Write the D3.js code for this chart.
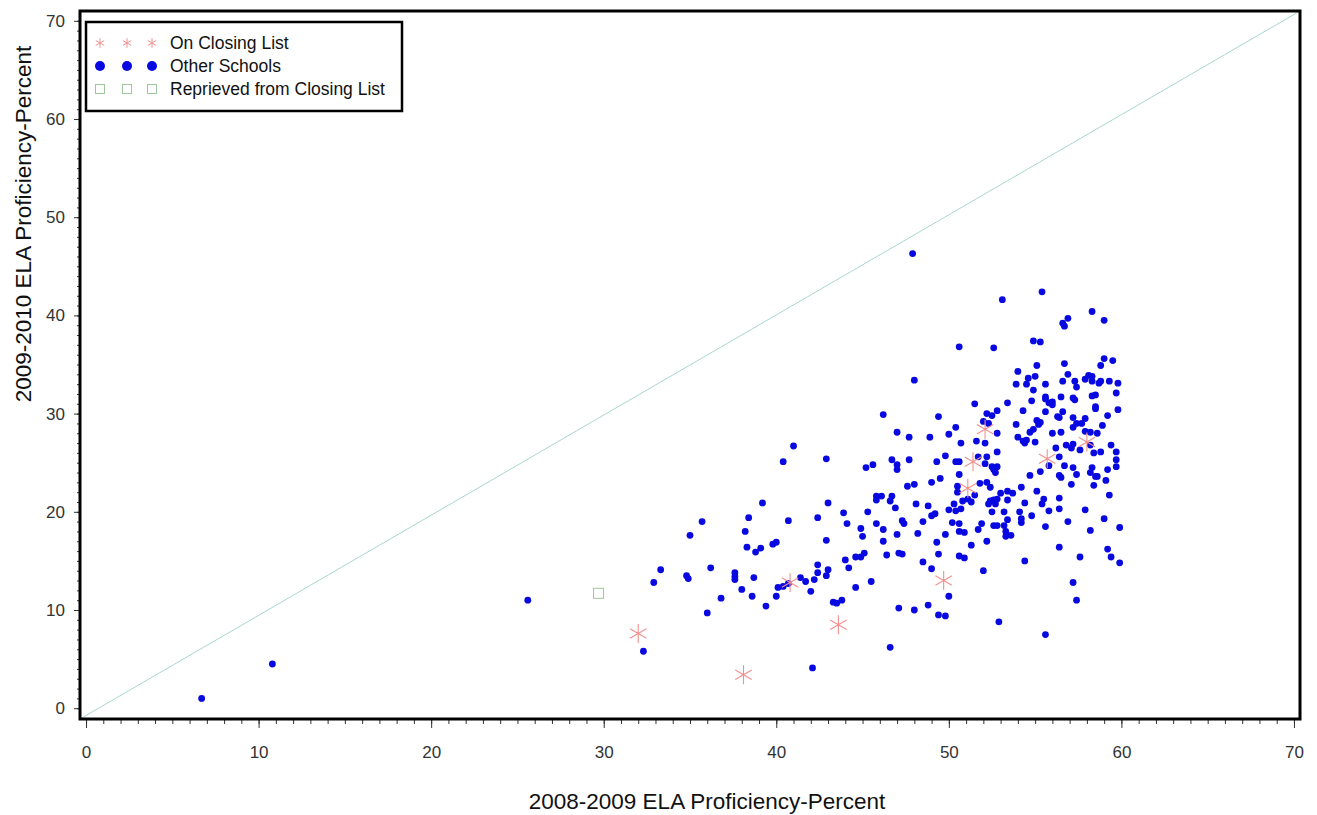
<!DOCTYPE html>
<html>
<head>
<meta charset="utf-8">
<script src="https://cdn.jsdelivr.net/npm/d3@7"></script>
<style>
    body { margin: 0; background: #fff; }
    svg { display: block; font-family: "Liberation Sans", Arial, sans-serif; }
    .tick text { fill: #333; font-size: 17px; }
</style>
</head>
<body>
<svg class="scatter-svg" width="1317" height="815"></svg>
<script>
// ELA proficiency, 2008-2009 (x) vs 2009-2010 (y)
var otherSchools = [
    [25.6,11.0],[33.3,14.1],[32.9,12.8],[34.8,13.5],[34.9,13.2],[35.0,17.6],[35.7,19.0],[36.2,14.3],
    [36.8,11.2],[36.0,9.7],[32.3,5.8],[37.6,13.8],[37.6,13.4],[37.6,13.1],[38.0,12.1],[38.2,18.0],
    [38.4,19.4],[38.3,16.4],[38.8,15.9],[39.1,16.3],[39.2,20.9],[38.7,13.3],[38.6,11.4],[39.4,10.4],
    [39.8,16.7],[40.0,16.9],[40.1,12.3],[40.0,11.4],[48.0,33.4],[46.2,29.9],[47.0,28.1],[47.7,27.6],
    [41.0,26.7],[40.4,25.1],[42.9,25.4],[45.2,24.5],[45.6,24.8],[46.7,25.3],[47.0,24.8],[47.0,24.3],
    [47.7,25.3],[47.6,22.6],[48.0,22.8],[43.0,20.9],[45.8,21.6],[46.1,21.6],[45.8,21.2],[46.7,21.6],
    [46.6,21.1],[46.9,20.4],[48.1,20.8],[40.7,19.1],[42.4,19.4],[43.9,19.9],[45.3,20.0],[44.1,18.8],
    [44.9,18.3],[45.0,17.5],[45.8,18.8],[46.2,18.2],[46.2,17.0],[47.3,19.1],[47.4,18.8],[47.0,17.7],
    [48.2,17.8],[42.9,17.1],[44.0,15.1],[44.6,15.4],[44.9,15.4],[45.1,15.8],[46.4,15.6],[47.1,15.8],
    [47.3,15.7],[44.2,14.3],[42.4,14.6],[42.4,13.8],[43.0,14.1],[42.9,13.5],[42.2,13.1],[40.4,12.4],
    [40.7,12.7],[41.4,13.3],[41.7,12.9],[42.0,11.9],[43.3,10.8],[43.5,10.7],[43.8,11.0],[44.6,12.3],
    [45.5,12.9],[47.1,10.2],[48.0,10.0],[53.1,41.6],[55.4,42.4],[50.6,36.8],[52.6,36.7],[58.3,40.4],
    [59.0,39.5],[56.6,39.2],[56.7,38.9],[56.9,39.7],[54.9,37.4],[55.3,37.3],[54.0,34.3],[55.1,34.9],
    [56.7,35.1],[59.0,35.6],[59.5,35.4],[58.8,34.9],[53.9,33.0],[54.6,33.6],[54.5,33.0],[55.0,33.8],
    [54.9,32.4],[55.6,33.0],[56.6,33.3],[56.9,34.0],[57.3,33.3],[57.4,32.7],[57.9,33.5],[58.1,33.9],
    [58.3,33.8],[58.3,33.3],[58.7,33.1],[58.8,33.3],[59.3,33.3],[59.8,33.1],[59.7,32.1],[51.5,31.0],
    [53.4,31.1],[54.8,31.3],[55.6,31.7],[55.6,31.5],[55.8,31.1],[56.0,31.2],[56.0,30.9],[55.6,30.2],
    [56.5,31.7],[57.2,31.6],[57.3,31.4],[58.3,31.8],[58.5,31.9],[58.5,30.7],[58.5,30.5],[59.8,30.4],
    [52.8,30.3],[52.2,30.0],[52.5,29.8],[54.3,30.3],[56.3,29.7],[56.4,29.6],[56.6,30.2],[57.2,29.6],
    [57.9,29.5],[59.2,29.8],[49.4,29.7],[50.4,28.6],[52.0,29.2],[52.3,29.0],[53.9,28.9],[55.1,29.3],
    [55.3,29.1],[55.2,28.9],[57.2,28.6],[57.4,29.0],[57.7,29.0],[58.9,28.8],[48.9,27.6],[50.0,27.9],
    [50.7,27.0],[51.6,27.2],[52.1,27.0],[52.8,28.0],[54.0,27.6],[54.3,27.2],[54.5,27.3],[54.4,27.0],
    [54.7,28.1],[54.9,28.4],[55.0,27.1],[56.0,28.0],[56.5,28.1],[57.9,28.2],[58.2,28.1],[58.6,28.0],
    [59.4,26.8],[59.7,26.1],[56.2,26.5],[56.8,26.8],[57.2,26.9],[57.1,26.5],[57.6,26.3],[58.2,26.8],
    [58.4,26.0],[58.8,26.1],[49.8,25.7],[51.7,25.6],[52.2,25.6],[52.8,26.1],[56.4,25.6],[59.7,25.3],
    [49.3,25.1],[50.4,25.1],[50.6,25.1],[52.1,24.9],[52.5,24.6],[52.8,24.6],[52.6,24.3],[52.7,24.0],
    [50.6,23.8],[54.7,23.7],[55.3,24.1],[55.8,24.7],[56.4,23.7],[56.5,23.5],[56.7,24.7],[57.2,24.5],
    [57.4,23.8],[58.2,24.0],[58.3,24.5],[58.5,23.6],[58.6,23.6],[59.1,23.2],[59.2,24.3],[59.7,24.6],
    [49.0,23.0],[49.5,23.4],[50.5,22.6],[50.5,22.0],[51.8,22.9],[52.2,23.0],[52.4,22.5],[51.5,21.7],
    [51.1,21.3],[51.3,21.0],[50.8,21.1],[53.0,21.9],[53.4,22.1],[53.7,21.9],[54.2,22.5],[55.1,22.1],
    [57.1,22.8],[58.4,22.7],[59.3,21.7],[48.8,20.6],[50.0,20.2],[50.3,20.8],[50.4,20.1],[50.7,20.3],
    [52.4,21.1],[52.3,20.8],[52.6,21.2],[52.7,20.8],[52.8,21.3],[53.4,21.2],[52.5,20.0],[53.2,20.0],
    [54.1,20.0],[54.2,19.3],[54.2,18.9],[54.4,20.9],[54.8,19.6],[55.4,20.8],[55.5,21.3],[55.8,20.1],
    [56.4,21.4],[56.4,20.3],[57.9,20.2],[59.0,19.3],[48.5,19.0],[49.0,19.6],[49.2,19.8],[50.2,18.9],
    [50.6,18.8],[51.9,18.8],[53.4,19.2],[52.6,18.6],[52.8,18.6],[53.2,18.6],[49.8,17.7],[50.6,18.0],
    [50.9,17.9],[51.7,18.2],[53.3,18.0],[53.3,17.5],[53.6,17.6],[55.6,18.5],[56.9,19.0],[58.2,18.1],
    [59.9,18.4],[49.3,16.9],[51.3,16.6],[52.2,17.0],[56.4,16.4],[49.4,15.7],[50.6,15.5],[50.9,15.3],
    [48.5,14.9],[49.0,14.2],[52.0,14.0],[54.4,15.0],[57.6,15.4],[59.2,16.2],[59.4,15.4],[59.9,14.8],
    [50.0,11.4],[48.8,10.5],[49.4,9.5],[49.8,9.4],[52.9,8.8],[55.6,7.5],[57.2,12.8],[57.4,11.0],
    [6.7,1.0],[10.8,4.5],[47.9,46.3],[46.6,6.2],[42.1,4.1]
];
var closingList = [
    [32.0,7.6],[38.1,3.4],[40.8,12.8],[43.6,8.5],[49.7,13.0],[51.1,22.4],[51.4,25.1],[52.1,28.4],
    [55.7,25.4],[58.0,27.1]
];
var reprieved = [[29.7,11.7]];

var xDomain = [-0.35, 70.35];
var yDomain = [-1.1, 71.0];
var majorTicks = [0, 10, 20, 30, 40, 50, 60, 70];
var minorTicks = d3.range(0, 71, 1);
var legendLabels = ["On Closing List", "Other Schools", "Reprieved from Closing List"];

var xTitle = "2008-2009 ELA Proficiency-Percent";
var yTitle = "2009-2010 ELA Proficiency-Percent";

var svg = d3.select(".scatter-svg"),
    margin = {top: 11, right: 17, bottom: 96, left: 80},
    width = +svg.attr("width") - margin.left - margin.right,
    height = +svg.attr("height") - margin.top - margin.bottom;

var x = d3.scaleLinear().domain(xDomain).range([0, width]);
var y = d3.scaleLinear().domain(yDomain).range([height, 0]);

var g = svg.append("g")
    .attr("transform", "translate(" + margin.left + "," + margin.top + ")");

// asterisk with 6 arms, like the SAS "star" symbol
function starPath(r) {
    var p = "";
    [90, 30, 150].forEach(function(a) {
        var rad = a * Math.PI / 180,
            dx = r * Math.cos(rad), dy = r * Math.sin(rad);
        p += "M" + (-dx) + "," + dy + "L" + dx + "," + (-dy);
    });
    return p;
}

// axes: minor ticks every unit, labelled major ticks every ten
function axisStyle(sel) {
    sel.select(".domain").remove();
    sel.selectAll(".tick line").attr("stroke", "#333").attr("stroke-width", 1);
}

g.append("g")
    .attr("transform", "translate(0," + height + ")")
    .call(d3.axisBottom(x).tickValues(minorTicks).tickSize(5).tickFormat(""))
    .call(axisStyle);
g.append("g")
    .attr("transform", "translate(0," + height + ")")
    .call(d3.axisBottom(x).tickValues(majorTicks).tickSize(9).tickPadding(18).tickFormat(d3.format("d")))
    .call(axisStyle);

g.append("g")
    .call(d3.axisLeft(y).tickValues(minorTicks).tickSize(3).tickFormat(""))
    .call(axisStyle);
g.append("g")
    .call(d3.axisLeft(y).tickValues(majorTicks).tickSize(6).tickPadding(9).tickFormat(d3.format("d")))
    .call(axisStyle);

// y = x reference line, corner to corner
g.append("line")
    .attr("x1", x(xDomain[0])).attr("y1", y(yDomain[0]))
    .attr("x2", x(xDomain[1])).attr("y2", y(yDomain[1]))
    .attr("stroke", "#a9d6d2")
    .attr("stroke-width", 1);

g.append("g")
    .attr("class", "other")
  .selectAll("circle")
  .data(otherSchools)
  .enter().append("circle")
    .attr("cx", function(d) { return x(d[0]); })
    .attr("cy", function(d) { return y(d[1]); })
    .attr("r", 3.4)
    .attr("fill", "#0808e0");

g.append("g")
    .attr("class", "reprieved")
  .selectAll("rect")
  .data(reprieved)
  .enter().append("rect")
    .attr("x", function(d) { return x(d[0]) - 5; })
    .attr("y", function(d) { return y(d[1]) - 5; })
    .attr("width", 10)
    .attr("height", 10)
    .attr("fill", "none")
    .attr("stroke", "#9cc89c")
    .attr("stroke-width", 1);

g.append("g")
    .attr("class", "closing")
  .selectAll("path")
  .data(closingList)
  .enter().append("path")
    .attr("transform", function(d) { return "translate(" + x(d[0]) + "," + y(d[1]) + ")"; })
    .attr("d", starPath(9.5))
    .attr("stroke", "#f29090")
    .attr("stroke-width", 1.1)
    .attr("fill", "none");

// frame
g.append("rect")
    .attr("width", width)
    .attr("height", height)
    .attr("fill", "none")
    .attr("stroke", "#000")
    .attr("stroke-width", 3);

// legend
var legend = g.append("g")
    .attr("transform", "translate(6,11)");

legend.append("rect")
    .attr("width", 316)
    .attr("height", 89)
    .attr("fill", "#fff")
    .attr("stroke", "#000")
    .attr("stroke-width", 2.5);

var symX = [14, 41, 66];
legendLabels.forEach(function(label, i) {
    var row = legend.append("g").attr("transform", "translate(0," + (21 + i * 23) + ")");
    symX.forEach(function(sx) {
        if (i === 0) {
            row.append("path")
                .attr("transform", "translate(" + sx + ",0)")
                .attr("d", starPath(4.8))
                .attr("stroke", "#f29090").attr("fill", "none");
        } else if (i === 1) {
            row.append("circle").attr("cx", sx).attr("r", 5).attr("fill", "#0808e0");
        } else {
            row.append("rect").attr("x", sx - 4.5).attr("y", -4.5)
                .attr("width", 9).attr("height", 9)
                .attr("fill", "none").attr("stroke", "#9cc89c");
        }
    });
    row.append("text")
        .attr("x", 84)
        .attr("dy", "0.35em")
        .style("font-size", "17.5px")
        .attr("fill", "#111")
        .text(label);
});

// axis titles
svg.append("text")
    .attr("x", 707)
    .attr("y", 809)
    .attr("text-anchor", "middle")
    .style("font-size", "22.5px")
    .attr("fill", "#111")
    .text(xTitle);

svg.append("text")
    .attr("transform", "translate(31,224) rotate(-90)")
    .attr("text-anchor", "middle")
    .style("font-size", "22.5px")
    .attr("fill", "#111")
    .attr("fill", "#111")
    .text(yTitle);
</script>
</body>
</html>
